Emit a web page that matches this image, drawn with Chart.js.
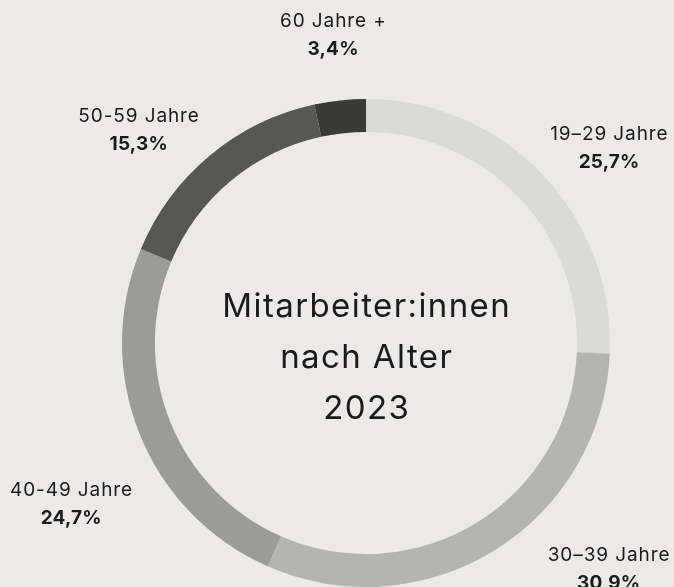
<!DOCTYPE html>
<html>
<head>
<meta charset="utf-8">
<script src="https://cdn.jsdelivr.net/npm/chart.js@4/dist/chart.umd.min.js"></script>
<style>
  html, body { margin: 0; padding: 0; background: #ebeae8; }
  #wrap { width: 674px; height: 587px; }
</style>
</head>
<body>
<div id="wrap"><canvas id="c" width="674" height="587"></canvas></div>
<script>
const categories = ["19–29 Jahre", "30–39 Jahre", "40-49 Jahre", "50-59 Jahre", "60 Jahre +"];
const shares = [25.7, 30.9, 24.7, 15.3, 3.4];
const valueLabels = ["25,7%", "30,9%", "24,7%", "15,3%", "3,4%"];
const centerTitle = ["Mitarbeiter:innen", "nach Alter", "2023"];

const segmentColors = ["#dadad9", "#b4b4b3", "#9b9b99", "#575755", "#3a3a38"];
const labelNudges = [[19, 20], [79, -37], [-7, 46], [-29, 26], [0, 1]];
const FONT = "Inter, Lato, 'DejaVu Sans', sans-serif";

const labelPlugin = {
  id: 'labels',
  afterDraw(chart) {
    const ctx = chart.ctx;
    const meta = chart.getDatasetMeta(0);
    ctx.save();
    ctx.fillStyle = '#1a1a1a';
    ctx.textAlign = 'center';
    ctx.textBaseline = 'middle';
    let cx = 0, cy = 0;
    meta.data.forEach((arc, i) => {
      const p = arc.getProps(['x', 'y', 'startAngle', 'endAngle', 'outerRadius'], true);
      cx = p.x; cy = p.y;
      const mid = (p.startAngle + p.endAngle) / 2;
      const r = p.outerRadius + 66;
      const ax = p.x + Math.cos(mid) * r + labelNudges[i][0];
      const ay = p.y + Math.sin(mid) * r + labelNudges[i][1];
      ctx.font = "400 19px " + FONT;
      ctx.letterSpacing = '0.9px';
      ctx.fillText(categories[i], ax + 0.4, ay - 14);
      ctx.font = "700 19px " + FONT;
      ctx.letterSpacing = '0.2px';
      ctx.fillText(valueLabels[i], ax + 0.1, ay + 14);
    });
    ctx.font = "400 33px " + FONT;
    ctx.letterSpacing = '1.4px';
    const lh = 51;
    centerTitle.forEach((t, k) => {
      ctx.fillText(t, cx + 0.7, cy - 36 + k * lh);
    });
    ctx.restore();
  }
};

new Chart(document.getElementById('c'), {
  type: 'doughnut',
  data: {
    labels: categories,
    datasets: [{
      data: shares,
      backgroundColor: segmentColors,
      borderWidth: 0,
      hoverOffset: 0
    }]
  },
  options: {
    responsive: false,
    animation: false,
    cutout: '86.5%',
    rotation: 0,
    layout: { padding: { top: 99, bottom: 0, left: 122, right: 64 } },
    plugins: {
      legend: { display: false },
      tooltip: { enabled: false }
    }
  },
  plugins: [labelPlugin]
});
</script>
</body>
</html>
